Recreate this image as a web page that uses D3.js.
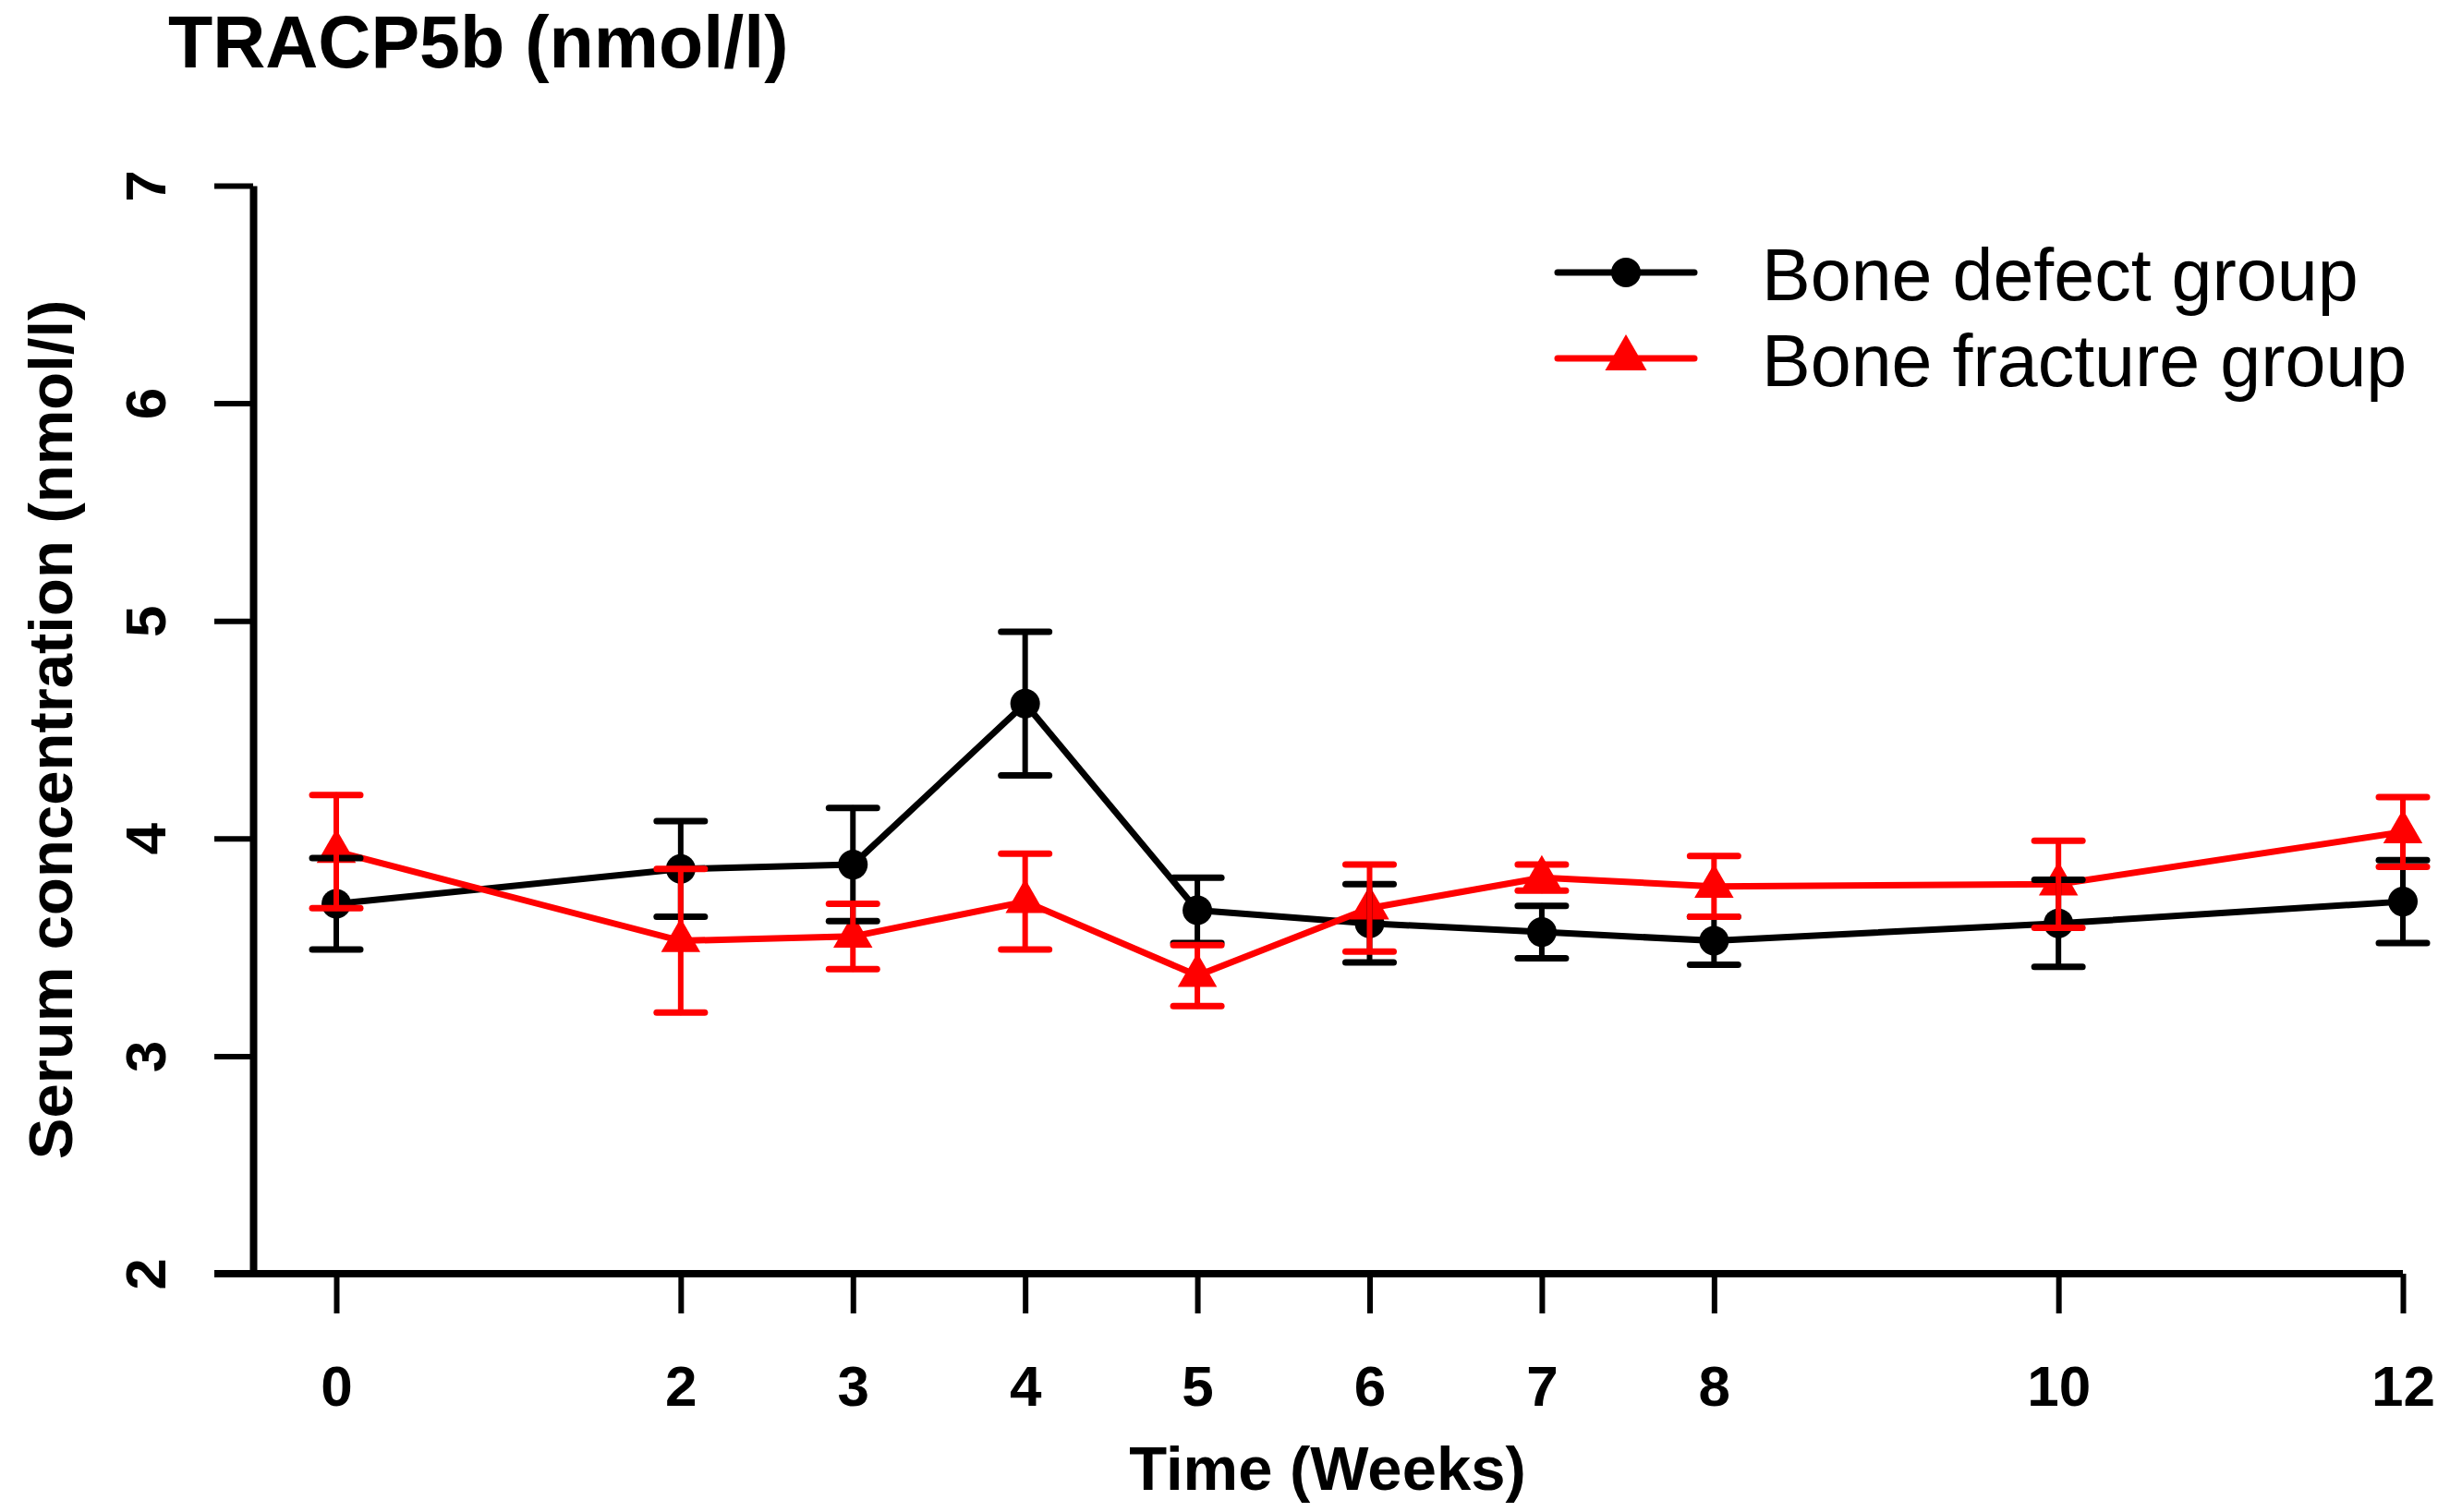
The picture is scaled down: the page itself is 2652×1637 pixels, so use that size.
<!DOCTYPE html>
<html>
<head>
<meta charset="utf-8">
<script src="https://cdn.jsdelivr.net/npm/d3@7"></script>
<style>
  body { margin: 0; background: #fff; }
  text { font-family: "Liberation Sans", Arial, sans-serif; }
</style>
</head>
<body>
<svg id="chart"></svg>
<script>
// Data (mean and error bar half-length)
const weeks = [0, 2, 3, 4, 5, 6, 7, 8, 10, 12];
const defectMean = [3.70, 3.86, 3.88, 4.62, 3.67, 3.61, 3.57, 3.53, 3.61, 3.71];
const defectErr = [0.21, 0.22, 0.26, 0.33, 0.15, 0.18, 0.12, 0.11, 0.20, 0.19];
const fractureMean = [3.94, 3.53, 3.55, 3.71, 3.37, 3.68, 3.82, 3.78, 3.79, 4.03];
const fractureErr = [0.26, 0.33, 0.15, 0.22, 0.14, 0.20, 0.06, 0.14, 0.20, 0.16];
const yTicks = [2, 3, 4, 5, 6, 7];

const width = 2652;
const height = 1637;

const svg = d3.select("#chart")
  .attr("width", width)
  .attr("height", height)
  .style("background", "#fff");

const x = d3.scaleLinear().domain([0, 12]).range([364, 2601]);
const y = d3.scaleLinear().domain([2, 7]).range([1379, 201]);
const axisX = 274;

const series = [
  { name: "Bone defect group", color: "#000000", shape: "circle",
    pts: weeks.map((w, i) => ({ w, m: defectMean[i], e: defectErr[i] })) },
  { name: "Bone fracture group", color: "#ff0000", shape: "triangle",
    pts: weeks.map((w, i) => ({ w, m: fractureMean[i], e: fractureErr[i] })) }
];

// Title
svg.append("text")
  .attr("x", 182).attr("y", 73)
  .attr("font-size", 79).attr("font-weight", "bold")
  .text("TRACP5b (nmol/l)");

// Y axis
const gy = svg.append("g")
  .attr("transform", `translate(${axisX},0)`)
  .call(d3.axisLeft(y).tickValues(yTicks).tickSize(42).tickSizeOuter(0).tickFormat(d3.format("d")));
gy.select(".domain").attr("stroke", "#000").attr("stroke-width", 8);
gy.selectAll(".tick line").attr("stroke", "#000").attr("stroke-width", 6);
gy.selectAll(".tick text")
  .attr("transform", "rotate(-90)")
  .attr("x", 0).attr("y", -95).attr("dy", 0)
  .attr("text-anchor", "middle")
  .attr("font-size", 62).attr("font-weight", "bold")
  .attr("fill", "#000");

// X axis
const gx = svg.append("g")
  .attr("transform", `translate(0,${y(2)})`)
  .call(d3.axisBottom(x).tickValues(weeks).tickSize(43).tickSizeOuter(0).tickFormat(d3.format("d")));
gx.select(".domain").remove();
gx.selectAll(".tick line").attr("stroke", "#000").attr("stroke-width", 6);
gx.selectAll(".tick text")
  .attr("y", 143).attr("dy", 0)
  .attr("font-size", 62).attr("font-weight", "bold")
  .attr("fill", "#000");
svg.append("line")
  .attr("x1", axisX - 42).attr("x2", x(12))
  .attr("y1", y(2)).attr("y2", y(2))
  .attr("stroke", "#000").attr("stroke-width", 8);

// Axis titles
svg.append("text")
  .attr("x", 1437).attr("y", 1613)
  .attr("text-anchor", "middle")
  .attr("font-size", 67).attr("font-weight", "bold")
  .text("Time (Weeks)");

svg.append("text")
  .attr("transform", `translate(78,${(y(2) + y(7)) / 2}) rotate(-90)`)
  .attr("text-anchor", "middle")
  .attr("font-size", 67).attr("font-weight", "bold")
  .text("Serum concentration (nmol/l)");

const circleSym = d3.symbol().type(d3.symbolCircle).size(Math.PI * 16 * 16);
const triSym = d3.symbol().type(d3.symbolTriangle).size(780);

const line = d3.line().x(d => x(d.w)).y(d => y(d.m));

// Lines
series.forEach(s => {
  svg.append("path")
    .datum(s.pts)
    .attr("d", line)
    .attr("fill", "none")
    .attr("stroke", s.color)
    .attr("stroke-width", 7)
    .attr("stroke-linejoin", "round")
    .attr("stroke-linecap", "round");
});

// Markers
series.forEach(s => {
  svg.append("g").selectAll("path")
    .data(s.pts)
    .join("path")
    .attr("transform", d => `translate(${x(d.w)},${y(d.m)})`)
    .attr("d", s.shape === "circle" ? circleSym : triSym)
    .attr("fill", s.color);
});

// Error bars
const capHalf = 26;
series.forEach(s => {
  const g = svg.append("g")
    .attr("stroke", s.color)
    .attr("stroke-width", 6)
    .attr("stroke-linecap", "round");
  g.selectAll(".stem")
    .data(s.pts)
    .join("line")
    .attr("x1", d => x(d.w)).attr("x2", d => x(d.w))
    .attr("y1", d => y(d.m - d.e)).attr("y2", d => y(d.m + d.e));
  ["top", "bottom"].forEach(side => {
    g.selectAll(".cap-" + side)
      .data(s.pts)
      .join("line")
      .attr("x1", d => x(d.w) - capHalf).attr("x2", d => x(d.w) + capHalf)
      .attr("y1", d => y(side === "top" ? d.m + d.e : d.m - d.e))
      .attr("y2", d => y(side === "top" ? d.m + d.e : d.m - d.e))
      .attr("stroke-width", 7);
  });
});

// Legend
const legend = svg.append("g");
series.forEach((s, i) => {
  const ly = 295 + i * 93;
  legend.append("line")
    .attr("x1", 1686).attr("x2", 1834)
    .attr("y1", ly).attr("y2", ly)
    .attr("stroke", s.color).attr("stroke-width", 7)
    .attr("stroke-linecap", "round");
  legend.append("path")
    .attr("transform", `translate(1760,${ly})`)
    .attr("d", s.shape === "circle" ? circleSym : d3.symbol().type(d3.symbolTriangle).size(880))
    .attr("fill", s.color);
  legend.append("text")
    .attr("x", 1907).attr("y", ly + 30)
    .attr("font-size", 79)
    .attr("fill", "#000")
    .text(s.name);
});
</script>
</body>
</html>
